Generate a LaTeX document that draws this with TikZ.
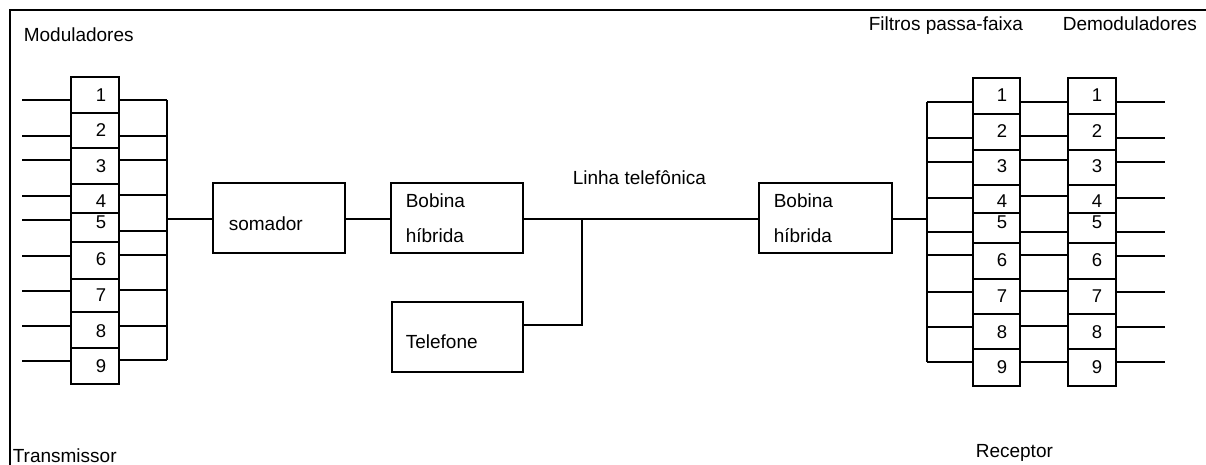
\documentclass[tikz,border=0pt]{standalone}
\usepackage{fontspec}
\setmainfont{Liberation Sans}
\begin{document}
\begin{tikzpicture}[x=1pt,y=-1pt,line width=1.6pt,
  box/.style={draw,line width=1.6pt,inner sep=0pt,outer sep=0pt,anchor=north west},
  lbl/.style={anchor=base west,inner sep=0pt,font=\fontsize{19}{22}\selectfont},
  num/.style={anchor=base,inner sep=0pt,font=\fontsize{18.5}{20}\selectfont}]
\useasboundingbox (0,0) rectangle (1206,465);
% frame
\coordinate (fr1) at (1206,10);
\coordinate (fr2) at (10,10);
\coordinate (fr3) at (10,465);
\draw (fr1) -- (fr2) -- (fr3);
% modulators
\foreach \i/\t/\b/\yl/\yr/\ny in {1/77/113/100/100/102, 2/113/148/136/136/137, 3/148/184/160/160/172,
  4/184/213/196/195/207, 5/213/242/220/231/228, 6/242/279/256/255/265, 7/279/312/291/290/301,
  8/312/348/326/326/337, 9/348/384/361/360/372}{
  \node[box,minimum width=48pt,minimum height={(\b-\t)*1pt}] (m\i) at (71,\t) {};
  \node[num] (mn\i) at (101,\ny) {\i};
  \coordinate (mi\i) at (22,\yl);
  \coordinate (mb\i) at (167,\yr);
  \draw (mi\i) -- (m\i.west |- mi\i);
  \draw (m\i.east |- mb\i) -- (mb\i);
}
\draw (mb1) -- (mb9);
% filters and demodulators
\foreach \i/\t/\b/\ya/\yb/\yc/\ny in {1/78/114/102/102/102/102, 2/114/150/138/136/138/138,
  3/150/185/162/160/162/173, 4/185/213/198/196/198/207, 5/213/243/232/232/232/228,
  6/243/279/255/255/256/266, 7/279/314/292/291/292/302, 8/314/349/327/326/327/338,
  9/349/386/362/362/362/373}{
  \node[box,minimum width=47pt,minimum height={(\b-\t)*1pt}] (f\i) at (973,\t) {};
  \node[box,minimum width=48pt,minimum height={(\b-\t)*1pt}] (d\i) at (1068,\t) {};
  \node[num] (fn\i) at (1002,\ny) {\i};
  \node[num] (dn\i) at (1097,\ny) {\i};
  \coordinate (rb\i) at (927,\ya);
  \coordinate (fd\i) at (1040,\yb);
  \coordinate (do\i) at (1165,\yc);
  \draw (rb\i) -- (f\i.west |- rb\i);
  \draw (f\i.east |- fd\i) -- (d\i.west |- fd\i);
  \draw (d\i.east |- do\i) -- (do\i);
}
\draw (rb1) -- (rb9);
% middle blocks
\node[box,minimum width=132pt,minimum height=70pt] (som) at (213,183) {};
\node[box,minimum width=132pt,minimum height=70pt] (bobL) at (391,183) {};
\node[box,minimum width=133pt,minimum height=70pt] (bobR) at (759,183) {};
\node[box,minimum width=131pt,minimum height=70pt] (tel) at (392,302) {};
\coordinate (sj) at (167,219);
\coordinate (j) at (582,219);
\coordinate (tj) at (582,325);
\coordinate (rj) at (927,219);
\draw (sj) -- (som.west |- sj);
\draw (som.east |- sj) -- (bobL.west |- sj);
\draw (bobL.east |- j) -- (bobR.west |- j);
\draw (j) -- (tj) -- (tel.east |- tj);
\draw (bobR.east |- rj) -- (rj);
% texts
\node[lbl] (tmod) at (23,42) {Moduladores};
\node[lbl] (ttr) at (12,462) {Transmissor};
\node[lbl] (tfil) at (868,31) {Filtros passa-faixa};
\node[lbl] (tdem) at (1062,31) {Demoduladores};
\node[lbl] (tlin) at (572,184) {Linha telefônica};
\node[lbl] (tsom) at (228,230) {somador};
\node[lbl] (tb1) at (405,207) {Bobina};
\node[lbl] (th1) at (405,242) {híbrida};
\node[lbl] (tb2) at (773,207) {Bobina};
\node[lbl] (th2) at (773,242) {híbrida};
\node[lbl] (ttel) at (405,348) {Telefone};
\node[lbl] (trec) at (975,457) {Receptor};
\end{tikzpicture}
\end{document}
